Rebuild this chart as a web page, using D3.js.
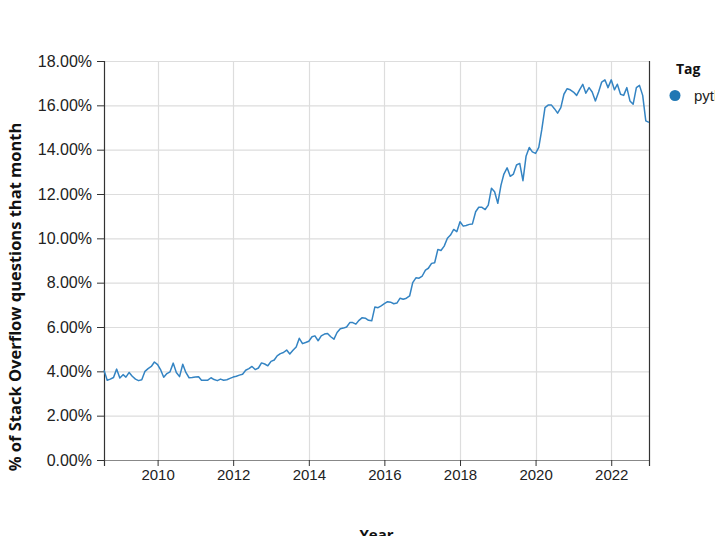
<!DOCTYPE html>
<html><head><meta charset="utf-8">
<script src="https://cdn.jsdelivr.net/npm/d3@7"></script>
<style>body{margin:0;background:#fff;} svg{display:block;}</style>
</head><body>
<script>
const startMonth = "2008-08";
const tagName = "python";
const values = [
 4.05,3.6,3.65,3.72,4.1,3.7,3.85,3.74,3.95,3.78,3.65,3.58,3.62,4.0,4.12,4.22,4.42,4.3,4.05,3.73,
 3.9,3.98,4.37,3.95,3.76,4.32,3.95,3.71,3.72,3.74,3.76,3.6,3.6,3.6,3.71,3.63,3.58,3.65,3.6,3.62,
 3.68,3.74,3.78,3.83,3.87,4.05,4.12,4.22,4.08,4.15,4.38,4.33,4.25,4.45,4.51,4.7,4.8,4.85,4.96,4.78,
 4.95,5.1,5.49,5.25,5.3,5.36,5.56,5.6,5.38,5.6,5.68,5.71,5.56,5.45,5.75,5.92,5.95,6.0,6.2,6.2,
 6.13,6.3,6.42,6.4,6.3,6.28,6.9,6.87,6.95,7.05,7.14,7.12,7.05,7.08,7.3,7.25,7.3,7.4,8.0,8.22,
 8.2,8.3,8.57,8.65,8.87,8.9,9.5,9.45,9.65,10.0,10.15,10.4,10.3,10.75,10.55,10.58,10.63,10.65,11.2,11.4,
 11.4,11.3,11.5,12.26,12.1,11.58,12.4,12.9,13.18,12.8,12.9,13.31,13.38,12.6,13.7,14.1,13.9,13.83,14.1,14.9,
 15.9,16.01,16.02,15.85,15.65,15.9,16.5,16.75,16.7,16.6,16.45,16.7,16.95,16.55,16.8,16.6,16.2,16.6,17.05,17.15,
 16.8,17.15,16.7,16.95,16.5,16.45,16.8,16.2,16.05,16.8,16.9,16.45,15.3,15.23
];
const yTicks = [0,2,4,6,8,10,12,14,16,18];
const xTickYears = [2010,2012,2014,2016,2018,2020,2022];
const yTitle = "% of Stack Overflow questions that month";
const xTitle = "Year";
const legendTitle = "Tag";

const W = 715, H = 536;
const m = {left:104, right:649, top:61, bottom:460};
const parse = d3.timeParse("%Y-%m");
const t0 = parse(startMonth);
const data = values.map((v,i)=>({date:d3.timeMonth.offset(t0,i), value:v}));

const svg = d3.select("body").append("svg").attr("width",W).attr("height",H);
const x = d3.scaleTime().domain(d3.extent(data,d=>d.date)).range([m.left,m.right]);
const y = d3.scaleLinear().domain([0,18]).range([m.bottom,m.top]);

const labelFont = "'Liberation Sans', Arial, sans-serif";
const titleFont = "'Open Sans', 'Noto Sans', sans-serif";

// grid
const g = svg.append("g");
g.selectAll("line.h").data(yTicks).join("line")
  .attr("x1",m.left).attr("x2",m.right).attr("y1",d=>y(d)+0.5).attr("y2",d=>y(d)+0.5)
  .attr("stroke","#ddd").attr("stroke-width",1.2);
const xTickDates = xTickYears.map(yv=>new Date(yv,0,1));
g.selectAll("line.v").data(xTickDates).join("line")
  .attr("x1",d=>Math.round(x(d))+0.5).attr("x2",d=>Math.round(x(d))+0.5).attr("y1",m.top).attr("y2",m.bottom)
  .attr("stroke","#ddd").attr("stroke-width",1.2);

// x axis
const xAxis = svg.append("g").attr("transform",`translate(0,${m.bottom})`)
  .call(d3.axisBottom(x).tickValues(xTickDates).tickFormat(d3.timeFormat("%Y")).tickSize(6).tickPadding(3));
xAxis.select(".domain").attr("stroke","#888");
xAxis.selectAll(".tick line").attr("stroke","#333");
xAxis.selectAll("text").attr("font-family",labelFont).attr("font-size","15px").attr("fill","#222");

// y axis
const yAxis = svg.append("g").attr("transform",`translate(${m.left},0)`)
  .call(d3.axisLeft(y).tickValues(yTicks).tickFormat(d=>d3.format(".2f")(d)+"%").tickSize(7).tickPadding(5));
yAxis.select(".domain").remove();
yAxis.selectAll(".tick line").attr("stroke","#333");
yAxis.selectAll("text").attr("font-family",labelFont).attr("font-size","16px").attr("fill","#222");

// vertical dark borders
svg.append("line").attr("x1",m.left+0.5).attr("x2",m.left+0.5).attr("y1",m.top).attr("y2",m.bottom+6)
  .attr("stroke","#333").attr("stroke-width",1.2);
svg.append("line").attr("x1",m.right+0.5).attr("x2",m.right+0.5).attr("y1",m.top).attr("y2",m.bottom+6)
  .attr("stroke","#333").attr("stroke-width",1.2);

// line
const line = d3.line().x(d=>x(d.date)).y(d=>y(d.value));
svg.append("path").datum(data).attr("d",line).attr("fill","none")
  .attr("stroke","#3484c3").attr("stroke-width",1.5).attr("stroke-linejoin","round");

// titles
svg.append("text").attr("transform",`translate(14,297) rotate(-90)`).attr("text-anchor","middle")
  .attr("font-family",titleFont).attr("font-weight","bold").attr("font-size","16.5px").attr("fill","#111")
  .attr("dominant-baseline","central").text(yTitle);
svg.append("text").attr("x",(m.left+m.right)/2).attr("y",540).attr("text-anchor","middle")
  .attr("font-family",titleFont).attr("font-weight","bold").attr("font-size","15px").attr("fill","#111").text(xTitle);

// legend
svg.append("text").attr("x",676).attr("y",74).attr("font-family",titleFont).attr("font-weight","bold")
  .attr("font-size","14px").attr("fill","#111").text(legendTitle);
svg.append("circle").attr("cx",675).attr("cy",95.5).attr("r",5.5).attr("fill","#1f77b4");
svg.append("text").attr("x",694).attr("y",101).attr("font-family",labelFont).attr("font-size","15px")
  .attr("fill","#222").text(tagName);
</script>
</body></html>
